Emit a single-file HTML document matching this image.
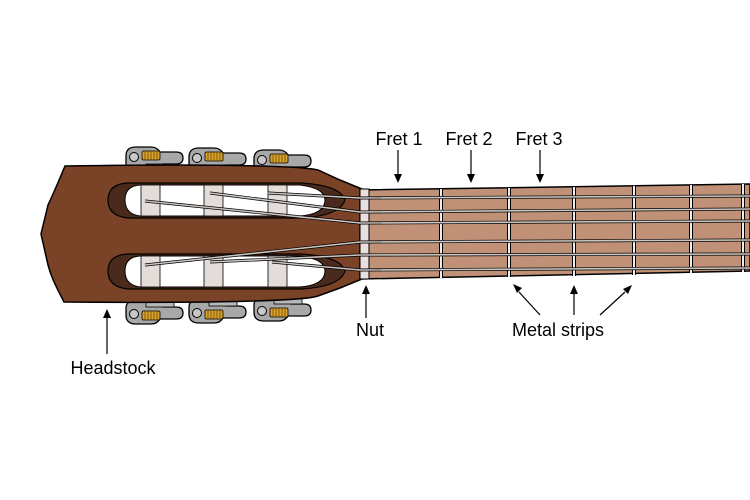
<!DOCTYPE html>
<html><head><style>body{margin:0;background:#fff}svg{display:block}</style></head><body>
<svg width="750" height="500" viewBox="0 0 750 500" xmlns="http://www.w3.org/2000/svg" font-family="Liberation Sans, sans-serif">
<defs>
<g id="tunT">
  <path d="M0,2 q0,-9 10,-9 h15 q6,0 9,5 h16 q7,0 7,6 q0,6 -7,6 h-13 l-4,6 h-24 q-9,0 -9,-7z" fill="#a8a8a8" stroke="#000" stroke-width="1.3"/>
  <circle cx="8" cy="3" r="4.5" fill="#c8c8c8" stroke="#000" stroke-width="1"/>
  <rect x="16" y="-3" width="18" height="9" rx="1.5" fill="#d9a32a" stroke="#000" stroke-width="0.8"/>
  <path d="M19,-3v9M22,-3v9M25,-3v9M28,-3v9M31,-3v9" stroke="#6a4a10" stroke-width="0.8"/>
  <rect x="20" y="10" width="28" height="5" fill="#b8b8b8" stroke="#000" stroke-width="0.8"/>
</g>
</defs>
<!-- tuners -->
<use href="#tunT" x="126" y="154"/><use href="#tunT" x="189" y="155"/><use href="#tunT" x="254" y="157"/>
<g transform="translate(0,467) scale(1,-1)">
<use href="#tunT" x="126" y="150"/><use href="#tunT" x="189" y="151"/><use href="#tunT" x="254" y="153"/>
</g>
<!-- headstock -->
<path d="M65,166 C180,164 300,165 318,170 L340,180 L362,189 L362,279 L340,288 L318,296 C300,302 180,303 64,302 C58,290 52,280 48,265 L41,234 L48,205 C55,190 60,178 65,166Z" fill="#7a4226" stroke="#000" stroke-width="1.5"/>
<!-- slots -->
<path d="M128,183 H300 Q340,185 345,200 Q340,216 300,218 H128 Q108,216 108,200 Q108,184 128,183Z" fill="#4a2a1c" stroke="#000" stroke-width="1.2"/>
<path d="M140,185 H300 Q325,188 325,200 Q325,214 300,216 H140 Q125,214 125,200 Q125,186 140,185Z" fill="#fff" stroke="#000" stroke-width="1"/>
<path d="M128,254 H300 Q340,256 345,271 Q340,287 300,289 H128 Q108,287 108,271 Q108,255 128,254Z" fill="#4a2a1c" stroke="#000" stroke-width="1.2"/>
<path d="M140,256 H300 Q325,259 325,271 Q325,285 300,287 H140 Q125,285 125,271 Q125,257 140,256Z" fill="#fff" stroke="#000" stroke-width="1"/>
<!-- rollers -->
<g fill="#e3dcd9" stroke="#000" stroke-width="0.8">
<rect x="141" y="185" width="19" height="31"/><rect x="204" y="185" width="19" height="31"/><rect x="268" y="185" width="19" height="31"/>
<rect x="141" y="256" width="19" height="31"/><rect x="204" y="256" width="19" height="31"/><rect x="268" y="256" width="19" height="31"/>
</g>
<!-- fingerboard -->
<path d="M360,190 L750,184 L750,271 L360,279Z" fill="#c09176" stroke="#000" stroke-width="1.5"/>
<g stroke="#000" stroke-width="4"><path d="M441,189V278M509,188V277M574,187V276M634,186V275M691,185V273M743,184V272"/></g>
<g stroke="#eee" stroke-width="2"><path d="M441,189V278M509,188V277M574,187V276M634,186V275M691,185V273M743,184V272"/></g>
<rect x="360" y="189" width="9" height="90" fill="#e8e0de" stroke="#000" stroke-width="1"/>
<!-- strings -->
<g id="str" fill="none">
<path d="M268,193 L360,198 L750,196"/><path d="M210,193 L360,212 L750,209"/><path d="M145,201 L360,223 L750,221"/>
<path d="M145,265 L360,242 L750,240"/><path d="M210,262 L360,255 L750,254"/><path d="M272,262 L360,270 L750,268"/>
</g>
<use href="#str" stroke="#000" stroke-width="3"/>
<use href="#str" stroke="#ccc6c2" stroke-width="1.6"/>
<!-- labels -->
<g font-size="18" fill="#000" text-anchor="middle">
<text x="399" y="145">Fret 1</text><text x="469" y="145">Fret 2</text><text x="539" y="145">Fret 3</text>
<text x="370" y="336">Nut</text><text x="558" y="336">Metal strips</text><text x="113" y="374">Headstock</text>
</g>
<g stroke="#000" stroke-width="1.2">
<path d="M398,150V176M471,150V176M540,150V176M366,318V292M107,354V316M540,315L519,292M574,315V292M600,315L625,292"/>
</g>
<g fill="#000">
<path d="M394,174h8l-4,9z"/><path d="M467,174h8l-4,9z"/><path d="M536,174h8l-4,9z"/>
<path d="M362,294h8l-4,-9z"/><path d="M103,318h8l-4,-9z"/><path d="M570,294h8l-4,-9z"/>
<path d="M513,284l9,4l-5,5z"/><path d="M632,285l-4,9l-5,-5z"/>
</g>
</svg>
</body></html>
